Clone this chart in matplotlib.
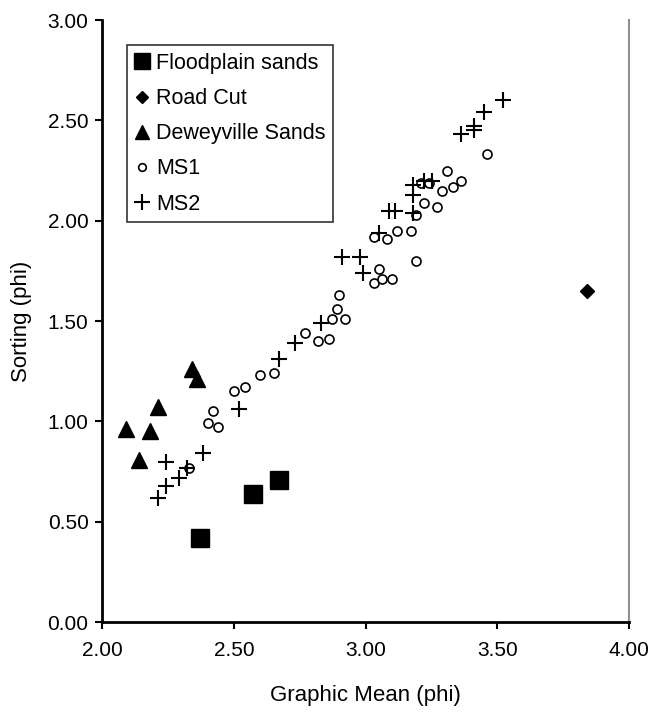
import matplotlib
matplotlib.use("Agg")
import matplotlib.pyplot as plt
from matplotlib.lines import Line2D

plt.rcParams['font.family'] = ['Liberation Sans', 'DejaVu Sans']

# Floodplain sands
flood_x = [2.37, 2.57, 2.67]
flood_y = [0.42, 0.64, 0.71]
# Road Cut
road_x = [3.84]
road_y = [1.65]
# Deweyville Sands
dewey_x = [2.09, 2.18, 2.21, 2.14, 2.34, 2.36]
dewey_y = [0.96, 0.95, 1.07, 0.81, 1.26, 1.21]
# MS1
ms1_x = [2.33, 2.40, 2.42, 2.44, 2.50, 2.54, 2.60, 2.65, 2.77, 2.82, 2.86, 2.87,
         2.89, 2.90, 2.92, 3.03, 3.05, 3.06, 3.10, 3.19, 3.03, 3.08, 3.12, 3.17,
         3.19, 3.22, 3.27, 3.21, 3.24, 3.29, 3.33, 3.36, 3.31, 3.46]
ms1_y = [0.77, 0.99, 1.05, 0.97, 1.15, 1.17, 1.23, 1.24, 1.44, 1.40, 1.41, 1.51,
         1.56, 1.63, 1.51, 1.69, 1.76, 1.71, 1.71, 1.80, 1.92, 1.91, 1.95, 1.95,
         2.03, 2.09, 2.07, 2.19, 2.19, 2.15, 2.17, 2.20, 2.25, 2.33]
# MS2
ms2_x = [2.21, 2.24, 2.29, 2.32, 2.24, 2.38, 2.52, 2.67, 2.73, 2.83, 2.91, 2.98,
         2.99, 3.05, 3.09, 3.11, 3.18, 3.18, 3.18, 3.22, 3.25, 3.36, 3.41, 3.41,
         3.45, 3.52]
ms2_y = [0.62, 0.68, 0.72, 0.77, 0.80, 0.84, 1.06, 1.31, 1.39, 1.49, 1.82, 1.82,
         1.74, 1.94, 2.05, 2.05, 2.04, 2.13, 2.18, 2.20, 2.20, 2.43, 2.45, 2.47,
         2.54, 2.60]

xticks = [2.0, 2.5, 3.0, 3.5, 4.0]
yticks = [0.0, 0.5, 1.0, 1.5, 2.0, 2.5, 3.0]

fig = plt.figure(figsize=(6.54, 7.15), dpi=100)
ax = fig.add_axes([0.1567, 0.130, 0.8051, 0.842])

ax.plot(flood_x, flood_y, ls='none', marker='s', ms=13, color='black')
ax.plot(road_x, road_y, ls='none', marker='D', ms=7, color='black')
ax.plot(dewey_x, dewey_y, ls='none', marker='^', ms=11, color='black')
ax.plot(ms1_x, ms1_y, ls='none', marker='o', ms=6.5, mfc='white', mec='black', mew=1.2)
ax.plot(ms2_x, ms2_y, ls='none', marker='+', ms=11, color='black', mew=1.5)

ax.set_xlim(2.0, 4.0)
ax.set_ylim(0.0, 3.0)
ax.set_xticks(xticks)
ax.set_yticks(yticks)
ax.set_xticklabels([f"{v:.2f}" for v in xticks])
ax.set_yticklabels([f"{v:.2f}" for v in yticks])
ax.tick_params(direction='out', length=5, width=1.5, labelsize=15, colors='black')
ax.tick_params(axis='x', pad=9)
ax.tick_params(axis='y', pad=5)

for s in ['left', 'bottom']:
    ax.spines[s].set_linewidth(2)
    ax.spines[s].set_color('black')
ax.spines['right'].set_color('#909090')
ax.spines['right'].set_linewidth(1.5)
ax.spines['top'].set_visible(False)

ax.set_xlabel('Graphic Mean (phi)', fontsize=16, labelpad=18)
ax.set_ylabel('Sorting (phi)', fontsize=16, labelpad=11)

handles = [
    Line2D([], [], ls='none', marker='s', ms=12, color='black'),
    Line2D([], [], ls='none', marker='D', ms=6, color='black'),
    Line2D([], [], ls='none', marker='^', ms=10, color='black'),
    Line2D([], [], ls='none', marker='o', ms=5.5, mfc='white', mec='black', mew=1.2),
    Line2D([], [], ls='none', marker='+', ms=11, color='black', mew=1.5),
]
labels = ['Floodplain sands', 'Road Cut', 'Deweyville Sands', 'MS1', 'MS2']
leg = ax.legend(handles, labels, loc='upper left', bbox_to_anchor=(0.0465, 0.958),
                frameon=True, fancybox=False, edgecolor='black', fontsize=15.5,
                handlelength=0.7, handletextpad=0.3, borderpad=0.35,
                labelspacing=0.66, borderaxespad=0.0)
leg.get_frame().set_linewidth(1.2)

fig.savefig('out.png', dpi=100)
